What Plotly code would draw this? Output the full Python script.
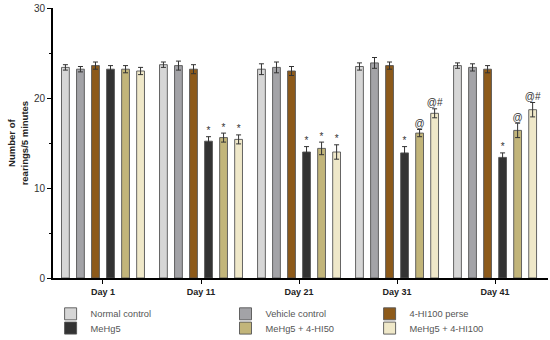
import plotly.graph_objects as go

days = ["Day 1", "Day 11", "Day 21", "Day 31", "Day 41"]
series_names = ["Normal control", "Vehicle control", "4-HI100 perse",
                "MeHg5", "MeHg5 + 4-HI50", "MeHg5 + 4-HI100"]
y_title = "Number of<br>rearings/5 minutes"
normal_control = [23.4, 23.7, 23.2, 23.5, 23.6]
vehicle_control = [23.2, 23.6, 23.4, 23.9, 23.4]
hi100_perse = [23.6, 23.2, 23.0, 23.6, 23.2]
mehg5 = [23.2, 15.2, 14.0, 13.9, 13.4]
mehg5_hi50 = [23.2, 15.6, 14.4, 16.1, 16.4]
mehg5_hi100 = [23.0, 15.4, 14.0, 18.3, 18.7]
err_normal = [0.3, 0.3, 0.6, 0.4, 0.3]
err_vehicle = [0.3, 0.5, 0.6, 0.6, 0.4]
err_perse = [0.4, 0.5, 0.5, 0.4, 0.4]
err_mehg5 = [0.4, 0.5, 0.6, 0.7, 0.5]
err_hi50 = [0.4, 0.5, 0.7, 0.4, 0.8]
err_hi100 = [0.4, 0.5, 0.8, 0.5, 0.8]
marks_normal = ["", "", "", "", ""]
marks_vehicle = ["", "", "", "", ""]
marks_perse = ["", "", "", "", ""]
marks_mehg5 = ["", "*", "*", "*", "*"]
marks_hi50 = ["", "*", "*", "@", "@"]
marks_hi100 = ["", "*", "*", "@#", "@#"]

values = [normal_control, vehicle_control, hi100_perse, mehg5, mehg5_hi50, mehg5_hi100]
errors = [err_normal, err_vehicle, err_perse, err_mehg5, err_hi50, err_hi100]
marks = [marks_normal, marks_vehicle, marks_perse, marks_mehg5, marks_hi50, marks_hi100]
colors = ["#d6d6d6", "#a3a3a7", "#8d5a1a", "#333333", "#c2b57a", "#efe8c9"]

# legend placement in container coords: (x, y)
legend_pos = [(0.092, 0.077), (0.410, 0.077), (0.672, 0.077),
              (0.092, 0.035), (0.410, 0.035), (0.672, 0.035)]

fig = go.Figure()
for i, name in enumerate(series_names):
    lg = "legend" if i == 0 else f"legend{i+1}"
    fig.add_trace(go.Bar(
        x=days, y=values[i], name=name,
        marker=dict(color=colors[i], line=dict(color="#555555", width=0.9)),
        error_y=dict(type="data", array=errors[i], color="#333333", thickness=1, width=2.5),
        offsetgroup=str(i), legend=lg, hoverinfo="skip",
    ))
for i, name in enumerate(series_names):
    tops = [v + e for v, e in zip(values[i], errors[i])]
    fig.add_trace(go.Scatter(
        x=days, y=tops, mode="text", text=marks[i], textposition="top center",
        textfont=dict(family="Liberation Sans, Arial", size=10, color="#333333"),
        offsetgroup=str(i), showlegend=False, hoverinfo="skip",
    ))

layout_legends = {}
for i in range(6):
    key = "legend" if i == 0 else f"legend{i+1}"
    layout_legends[key] = dict(
        x=legend_pos[i][0], y=legend_pos[i][1], xanchor="left", yanchor="middle",
        xref="container", yref="container", orientation="v",
        font=dict(family="Liberation Sans, Arial", size=9.3, color="#555555"),
        bgcolor="rgba(0,0,0,0)", itemwidth=30, borderwidth=0,
    )

fig.update_layout(
    width=550, height=340,
    margin=dict(l=53, r=2, t=8, b=62, autoexpand=False),
    plot_bgcolor="white", paper_bgcolor="white",
    barmode="group", bargap=0.08, bargroupgap=0.48,
    scattermode="group", scattergap=0.08,
    **layout_legends,
)
fig.add_annotation(
    text=y_title, xref="paper", yref="paper", x=-0.072, y=0.5,
    xanchor="center", yanchor="middle", textangle=-90, showarrow=False,
    font=dict(family="Liberation Sans, Arial", size=9.5, color="#222222", weight="bold"),
)
fig.update_xaxes(
    range=[-0.51, 4.54], showline=True, linecolor="black", linewidth=1.5,
    ticks="outside", ticklen=4, tickcolor="black", tickwidth=1.2,
    tickfont=dict(family="Liberation Sans, Arial", size=9, color="#222222", weight="bold"),
    showgrid=False, zeroline=False, fixedrange=True, automargin=False,
)
fig.update_yaxes(
    range=[0, 30], tickvals=[0, 10, 20, 30], showline=True, linecolor="black", linewidth=2,
    ticks="outside", ticklen=4, tickcolor="black", tickwidth=1.2,
    minor=dict(dtick=5, ticks="outside", ticklen=2, tickcolor="black"),
    tickfont=dict(family="Liberation Sans, Arial", size=10, color="#333333"),
    showgrid=False, zeroline=False, fixedrange=True, automargin=False,
)
fig.write_html("out.html", post_script="document.body.style.margin='0px';",
               config={"displayModeBar": False})
